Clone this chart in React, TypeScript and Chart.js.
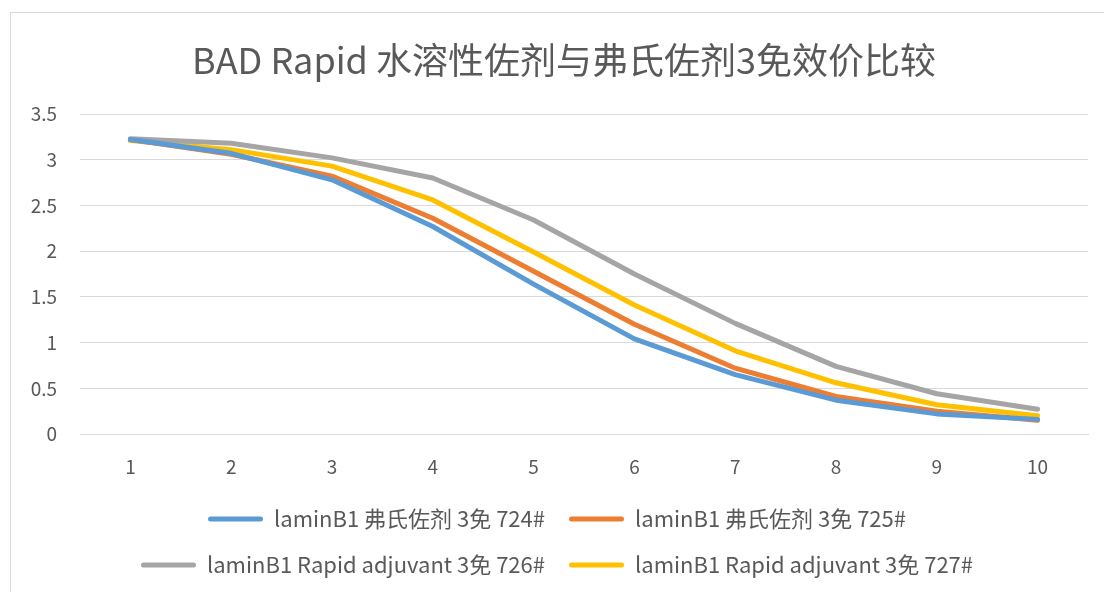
import React, { useEffect, useRef } from "react";
import { Chart, registerables } from "chart.js";

Chart.register(...registerables);

const categories = ["1", "2", "3", "4", "5", "6", "7", "8", "9", "10"];
const seriesNames = [
  "laminB1 弗氏佐剂 3免 724#",
  "laminB1 弗氏佐剂 3免 725#",
  "laminB1 Rapid adjuvant 3免 726#",
  "laminB1 Rapid adjuvant 3免 727#",
];
const s724 = [3.22, 3.07, 2.78, 2.27, 1.64, 1.04, 0.65, 0.37, 0.22, 0.16];
const s725 = [3.22, 3.06, 2.82, 2.36, 1.78, 1.2, 0.72, 0.41, 0.25, 0.15];
const s726 = [3.23, 3.18, 3.02, 2.8, 2.34, 1.75, 1.21, 0.74, 0.44, 0.27];
const s727 = [3.21, 3.11, 2.93, 2.56, 1.99, 1.41, 0.91, 0.56, 0.32, 0.2];
const colors = ["#5B9BD5", "#ED7D31", "#A5A5A5", "#FFC000"];
const titleText = "BAD Rapid 水溶性佐剂与弗氏佐剂3免效价比较";

const FONT = '"Noto Sans CJK SC", "Noto Sans", sans-serif';

const shiftTitle = {
  id: "shiftTitle",
  afterLayout(c: any) {
    const t = c.titleBlock;
    if (t) {
      t.left += 14;
    }
  },
};

export default function App() {
  const ref = useRef<HTMLCanvasElement | null>(null);

  useEffect(() => {
    document.body.style.margin = "0";
    document.body.style.overflow = "hidden";
    const canvas = ref.current;
    if (!canvas) return;
    const all = [s724, s725, s726, s727];
    const chart = new Chart(canvas, {
      type: "line",
      data: {
        labels: categories,
        datasets: all.map((d, i) => ({
          label: seriesNames[i],
          data: d,
          borderColor: colors[i],
          backgroundColor: colors[i],
          borderWidth: 5,
          pointRadius: 0,
          tension: 0,
          borderCapStyle: "round" as const,
          borderJoinStyle: "round" as const,
        })),
      },
      plugins: [shiftTitle],
      options: {
        animation: false,
        responsive: true,
        maintainAspectRatio: false,
        layout: { padding: { left: 26, right: 16, top: 12, bottom: 6 } },
        plugins: {
          title: {
            display: true,
            text: titleText,
            color: "#595959",
            font: { family: FONT, size: 36, weight: "normal" },
            padding: { top: 26.4, bottom: 32.4 },
          },
          legend: {
            display: true,
            position: "bottom",
            labels: {
              color: "#595959",
              font: { family: FONT, size: 22 },
              boxWidth: 55,
              boxHeight: 5,
              padding: 24,
              useBorderRadius: true,
              borderRadius: 2.5,
              generateLabels: (c: any) =>
                Chart.defaults.plugins.legend.labels
                  .generateLabels(c)
                  .map((l: any) => ({ ...l, lineWidth: 0 })),
            },
          },
          tooltip: { enabled: false },
        },
        scales: {
          x: {
            offset: true,
            grid: { display: false, drawTicks: false },
            border: { display: true, color: "#D9D9D9", width: 1 },
            ticks: {
              color: "#595959",
              font: { family: FONT, size: 19 },
              padding: 21.6,
            },
            afterFit: (s: any) => {
              s.height = 50;
            },
          },
          y: {
            min: 0,
            max: 3.5,
            grid: { color: "#D9D9D9", lineWidth: 1, drawTicks: false },
            border: { display: false },
            ticks: {
              stepSize: 0.5,
              color: "#595959",
              font: { family: FONT, size: 19 },
              padding: 23,
              callback: (v: any) => String(v),
            },
            afterFit: (s: any) => {
              s.width = 54;
            },
          },
        },
      },
    });
    return () => chart.destroy();
  }, []);

  return (
    <div
      style={{
        position: "relative",
        width: 1104,
        height: 592,
        overflow: "hidden",
        background: "#ffffff",
      }}
    >
      <div
        style={{
          position: "absolute",
          left: 10,
          top: 12,
          width: 1110,
          height: 600,
          border: "1px solid #D9D9D9",
          boxSizing: "border-box",
        }}
      />
      <div style={{ position: "absolute", left: 0, top: 0, width: 1104, height: 592 }}>
        <canvas ref={ref} />
      </div>
    </div>
  );
}
